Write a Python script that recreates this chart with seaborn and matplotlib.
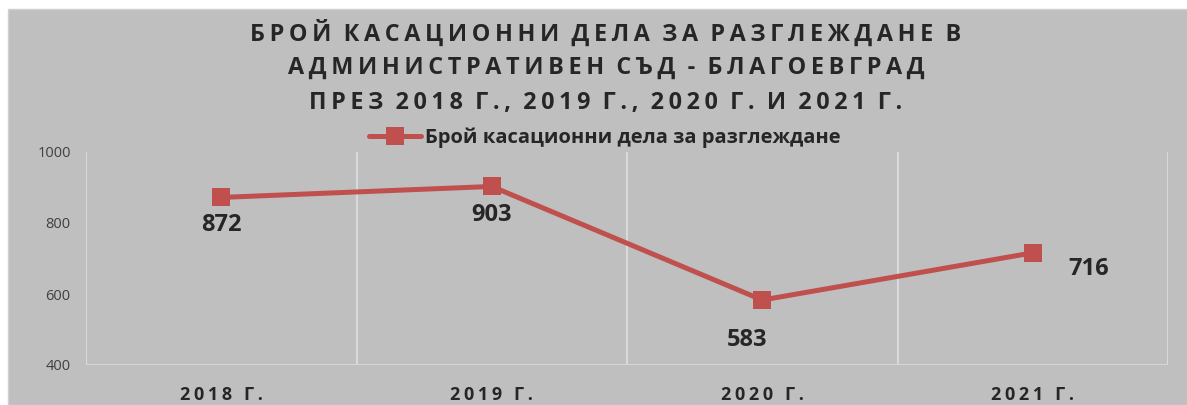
import pandas as pd
import matplotlib.pyplot as plt
import seaborn as sns
from matplotlib.patches import Rectangle

# data
years = ["2018 Г.", "2019 Г.", "2020 Г.", "2021 Г."]
cases = [872, 903, 583, 716]
series_name = "Брой касационни дела за разглеждане"
title_lines = ["БРОЙ КАСАЦИОННИ ДЕЛА ЗА РАЗГЛЕЖДАНЕ В",
               "АДМИНИСТРАТИВЕН СЪД - БЛАГОЕВГРАД",
               "ПРЕЗ 2018 Г., 2019 Г., 2020 Г. И 2021 Г."]

sns.set_style("white")
plt.rcParams['font.family'] = ['Open Sans', 'DejaVu Sans']

gray = "#BFBFBF"
red = "#C0504D"
dark = "#262626"


def spaced(s):
    # fake letter spacing with thin spaces
    return "\u2009".join(s)


df = pd.DataFrame({"year": years, "cases": cases})

fig = plt.figure(figsize=(11.87, 4.05), dpi=100, facecolor="white")
fig.patches.append(Rectangle((8 / 1187, 0), 1, 1 - 9 / 405, transform=fig.transFigure,
                             facecolor=gray, edgecolor="#D0D0D0", lw=1, zorder=-5))
ax = fig.add_axes([86 / 1187, 40 / 405, 1082 / 1187, 213 / 405])
ax.set_zorder(2)
ax.set_facecolor(gray)

sns.lineplot(data=df, x="year", y="cases", ax=ax, color=red, lw=3.6, marker="s",
             markersize=13, markeredgewidth=0, label=series_name, sort=False)

ax.set_xlim(-0.5, 3.5)
ax.set_ylim(400, 1000)
ax.set_yticks([400, 600, 800, 1000])
for x in [-0.5, 0.5, 1.5, 2.5, 3.5]:
    ax.axvline(x, color="#D9D9D9", lw=1.5, zorder=0)
ax.axhline(400, color="#D9D9D9", lw=2, zorder=0)
for s in ax.spines.values():
    s.set_visible(False)

ax.tick_params(axis="y", length=0, pad=11, labelsize=10.5, labelcolor="#404040")
ax.tick_params(axis="x", length=0, pad=15)
ax.set_xticks(range(len(years)))
ax.set_xticklabels([spaced(y) for y in years], fontsize=13, fontweight="bold", color=dark)
ax.set_xlabel("")
ax.set_ylabel("")

offsets = [(0, -28), (0, -29), (-15, -40), (56, -16)]
for i, (v, off) in enumerate(zip(cases, offsets)):
    ax.annotate(str(v), (i, v), xytext=off, textcoords="offset pixels",
                ha="center", va="center", fontsize=17, fontweight="bold", color=dark)

leg = ax.legend(loc="center", bbox_to_anchor=(605 / 1187, 1 - 138 / 405),
                bbox_transform=fig.transFigure, frameon=False, fontsize=14.5,
                handlelength=2.6, handletextpad=0.2, borderpad=0)
for t in leg.get_texts():
    t.set_fontweight("bold")
    t.set_color(dark)

for k, line in enumerate(title_lines):
    fig.text(606 / 1187, 1 - (33 + 35 * k) / 405, spaced(line).replace("\u2009 \u2009", "  "),
             ha="center", va="center", fontsize=16.8, fontweight="bold", color=dark)

fig.savefig("out.png", dpi=100, facecolor=fig.get_facecolor())
